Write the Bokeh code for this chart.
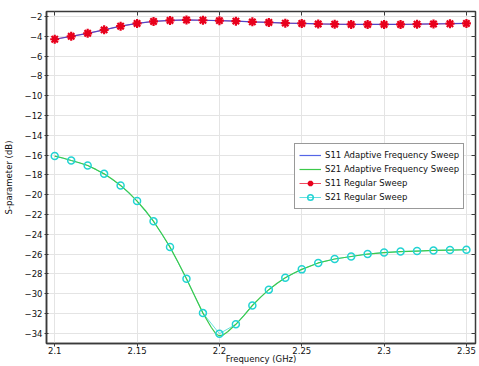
from bokeh.plotting import figure
from bokeh.models import (LinearAxis, FixedTicker, Legend, LegendItem, Range1d,
                          CustomJSTickFormatter)
from bokeh.embed import file_html
from bokeh.resources import INLINE

# ---- data ----
freq_reg = [2.10, 2.11, 2.12, 2.13, 2.14, 2.15, 2.16, 2.17, 2.18, 2.19, 2.20, 2.21, 2.22,
            2.23, 2.24, 2.25, 2.26, 2.27, 2.28, 2.29, 2.30, 2.31, 2.32, 2.33, 2.34, 2.35]
s11_reg = [-4.3, -4.0, -3.7, -3.35, -2.98, -2.7, -2.5, -2.4, -2.35, -2.38, -2.42, -2.47, -2.54,
           -2.6, -2.67, -2.7, -2.75, -2.78, -2.8, -2.8, -2.8, -2.8, -2.78, -2.75, -2.73, -2.7]
s21_reg = [-16.1, -16.55, -17.05, -17.9, -19.07, -20.65, -22.7, -25.3, -28.5, -31.97, -34.05,
           -33.1, -31.2, -29.6, -28.4, -27.55, -26.9, -26.5, -26.25, -26.0, -25.85, -25.75,
           -25.7, -25.64, -25.6, -25.57]

freq_ad_s11 = [2.10, 2.11, 2.12, 2.13, 2.14, 2.15, 2.16, 2.17, 2.18, 2.19, 2.20, 2.21, 2.22,
               2.23, 2.24, 2.25, 2.26, 2.27, 2.28, 2.29, 2.30, 2.31, 2.32, 2.33, 2.34, 2.35]
s11_ad = [-4.3, -4.0, -3.7, -3.35, -2.98, -2.7, -2.5, -2.4, -2.35, -2.38, -2.42, -2.47, -2.54,
          -2.6, -2.67, -2.7, -2.75, -2.78, -2.8, -2.8, -2.8, -2.8, -2.78, -2.75, -2.73, -2.7]

freq_ad_s21 = [2.100, 2.105, 2.110, 2.115, 2.120, 2.125, 2.130, 2.135, 2.140, 2.145, 2.150,
               2.155, 2.160, 2.165, 2.170, 2.175, 2.180, 2.185, 2.190, 2.195, 2.198, 2.200,
               2.202, 2.205, 2.210, 2.215, 2.220, 2.225, 2.230, 2.235, 2.240, 2.245, 2.250,
               2.260, 2.270, 2.280, 2.290, 2.300, 2.310, 2.320, 2.330, 2.340, 2.350]
s21_ad = [-16.1, -16.3, -16.55, -16.78, -17.05, -17.45, -17.9, -18.45, -19.07, -19.8, -20.65,
          -21.6, -22.7, -23.95, -25.3, -26.85, -28.5, -30.25, -31.97, -33.4, -34.1, -34.25,
          -34.2, -33.85, -33.1, -32.2, -31.2, -30.35, -29.6, -28.95, -28.4, -27.95, -27.55,
          -26.9, -26.5, -26.25, -26.0, -25.85, -25.75, -25.7, -25.64, -25.6, -25.57]

x_ticks = [2.1, 2.15, 2.2, 2.25, 2.3, 2.35]
y_ticks = [-34, -32, -30, -28, -26, -24, -22, -20, -18, -16, -14, -12, -10, -8, -6, -4, -2]

FONT = "DejaVu Sans"
FS = "8.5px"

p = figure(width=479, height=366, output_backend="svg", toolbar_location=None,
           x_range=Range1d(2.0950, 2.3555), y_range=Range1d(-35.04, -1.495),
           min_border_left=46, min_border_right=4, min_border_top=11, min_border_bottom=23,
           background_fill_color="white", border_fill_color="white")

p.outline_line_color = "#3a3a3a"
p.outline_line_width = 1.5

for ax in (p.xaxis[0], p.yaxis[0]):
    ax.minor_tick_line_color = None
    ax.axis_line_color = "#3a3a3a"
    ax.axis_line_width = 1.5
    ax.major_tick_line_color = "#3a3a3a"
    ax.major_label_text_font = FONT
    ax.major_label_text_font_size = FS
    ax.major_label_text_color = "#111111"
    ax.axis_label_text_font = FONT
    ax.axis_label_text_font_size = FS
    ax.axis_label_text_font_style = "normal"
    ax.axis_label_text_color = "#111111"

p.xaxis.major_tick_in = 0
p.xaxis.major_tick_out = 3
p.xaxis.major_label_standoff = 0
p.xaxis.axis_label_standoff = -3
p.yaxis.major_tick_in = 2
p.yaxis.major_tick_out = 2
p.yaxis.major_label_standoff = 2
p.yaxis.axis_label_standoff = 8

p.xaxis.ticker = FixedTicker(ticks=x_ticks)
p.yaxis.ticker = FixedTicker(ticks=y_ticks)
p.xaxis.formatter = CustomJSTickFormatter(code="return String(Math.round(tick*1000)/1000)")
p.xaxis.axis_label = "Frequency (GHz)"
p.yaxis.axis_label = "S-parameter (dB)"

blank = CustomJSTickFormatter(code="return ''")
top = LinearAxis(ticker=FixedTicker(ticks=x_ticks), formatter=blank, major_tick_in=4,
                 major_tick_out=0, minor_tick_line_color=None, axis_line_color=None,
                 major_tick_line_color="#3a3a3a", major_label_standoff=0,
                 major_label_text_font_size="1px")
right = LinearAxis(ticker=FixedTicker(ticks=y_ticks), formatter=blank, major_tick_in=4,
                   major_tick_out=0, minor_tick_line_color=None, axis_line_color=None,
                   major_tick_line_color="#3a3a3a", major_label_standoff=0,
                   major_label_text_font_size="1px")
p.add_layout(top, "above")
p.add_layout(right, "right")

p.xgrid.ticker = FixedTicker(ticks=x_ticks)
p.ygrid.ticker = FixedTicker(ticks=y_ticks)
p.grid.grid_line_color = "#e4e4e4"
p.grid.grid_line_width = 1

# regular sweep lines (under)
l11r = p.line(freq_reg, s11_reg, line_color="#e8001c", line_width=1, line_alpha=0.7)
l21r = p.line(freq_reg, s21_reg, line_color="#22d3d3", line_width=1, line_alpha=0.7)
# adaptive sweep lines
l11a = p.line(freq_ad_s11, s11_ad, line_color="#2b3fe0", line_width=1.2, line_alpha=0.8)
l21a = p.line(freq_ad_s21, s21_ad, line_color="#3cc94a", line_width=1.2)
# markers
m11 = p.scatter(freq_reg, s11_reg, marker="asterisk", size=9, line_color="#e8001c",
                line_width=2.2)
m21 = p.scatter(freq_reg, s21_reg, marker="circle", size=7, fill_color=None,
                line_color="#22d3d3", line_width=1.5)

legend = Legend(items=[
    LegendItem(label="S11 Adaptive Frequency Sweep", renderers=[l11a]),
    LegendItem(label="S21 Adaptive Frequency Sweep", renderers=[l21a]),
    LegendItem(label="S11 Regular Sweep", renderers=[l11r, m11]),
    LegendItem(label="S21 Regular Sweep", renderers=[l21r, m21]),
], location=(248, 134))
legend.label_text_font = FONT
legend.label_text_font_size = FS
legend.label_text_color = "#111111"
legend.border_line_color = "#333333"
legend.border_line_width = 1.5
legend.background_fill_alpha = 1
legend.glyph_width = 22
legend.glyph_height = 14
legend.label_height = 14
legend.label_standoff = 4
legend.spacing = 0
legend.padding = 4
legend.margin = 0
p.add_layout(legend, "center")

open("out.html", "w").write(file_html(p, INLINE))
